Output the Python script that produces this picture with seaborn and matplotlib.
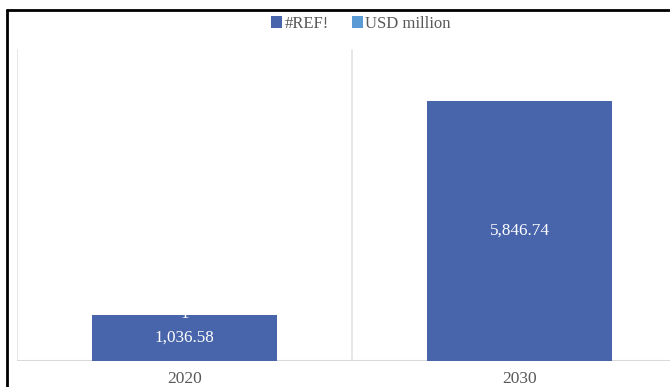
import matplotlib
matplotlib.use("Agg")
import matplotlib.pyplot as plt
import seaborn as sns
import pandas as pd
from matplotlib.lines import Line2D
from matplotlib.patches import Patch
from matplotlib.transforms import offset_copy

years = ["2020", "2030"]
ref_values = [1036.58, 5846.74]
usd_values = [1, 0]
series_names = ["#REF!", "USD million"]

sns.set_theme(style="white")
plt.rcParams['font.family'] = ['Liberation Serif', 'DejaVu Serif']

dark = "#4865ac"
light = "#5b9bd5"

fig = plt.figure(figsize=(6.7, 3.87), dpi=100)
W, H = 670, 387
ax = fig.add_axes([17 / W, 26 / H, 670 / W, 314 / H])

df = pd.DataFrame({"year": years, "value": ref_values})
sns.barplot(data=df, x="year", y="value", color=dark, width=0.55, ax=ax,
            saturation=1, edgecolor="none", linewidth=0)
ax.bar(range(len(years)), usd_values, bottom=ref_values, width=0.55,
       color=light, linewidth=0)

ax.set_xlim(-0.5, 1.5)
ax.set_ylim(0, 7060)
for s in ax.spines.values():
    s.set_visible(False)
ax.set_yticks([])
ax.set_xlabel("")
ax.set_ylabel("")
ax.tick_params(axis="x", length=0, pad=7, labelsize=12.5, labelcolor="#595959")

# category separators
for xv in [-0.5, 0.5]:
    ax.axvline(xv, ymax=0.99, color="#e3e3e3", lw=1.2, zorder=0)
ax.axhline(0, color="#d9d9d9", lw=1.5, zorder=0)

for i, v in enumerate(ref_values):
    ax.text(i, v / 2, f"{v:,.2f}", ha="center", va="center", color="white", fontsize=12.3)
up = offset_copy(ax.transData, fig=fig, x=0, y=1, units="dots")
for i, (b, v) in enumerate(zip(ref_values, usd_values)):
    if v:
        ax.text(i, b + v / 2, f"{v}", ha="center", va="center", color="white",
                fontsize=12.3, transform=up, zorder=5)

handles = [Patch(facecolor=dark, edgecolor="none"), Patch(facecolor=light, edgecolor="none")]
fig.legend(handles, series_names, loc="center", bbox_to_anchor=(361 / W, 1 - 24 / H),
           ncol=2, frameon=False, fontsize=12, handlelength=0.65, handleheight=0.7,
           handletextpad=0.15, columnspacing=1.4, labelcolor="#595959")

# outer black frame (top and left visible)
fig.add_artist(Line2D([7 / W, 7 / W], [0, 1 - 10 / H], transform=fig.transFigure, color="black", lw=2))
fig.add_artist(Line2D([7 / W, 1], [1 - 10 / H, 1 - 10 / H], transform=fig.transFigure, color="black", lw=2))

fig.savefig("out.png", dpi=100)
